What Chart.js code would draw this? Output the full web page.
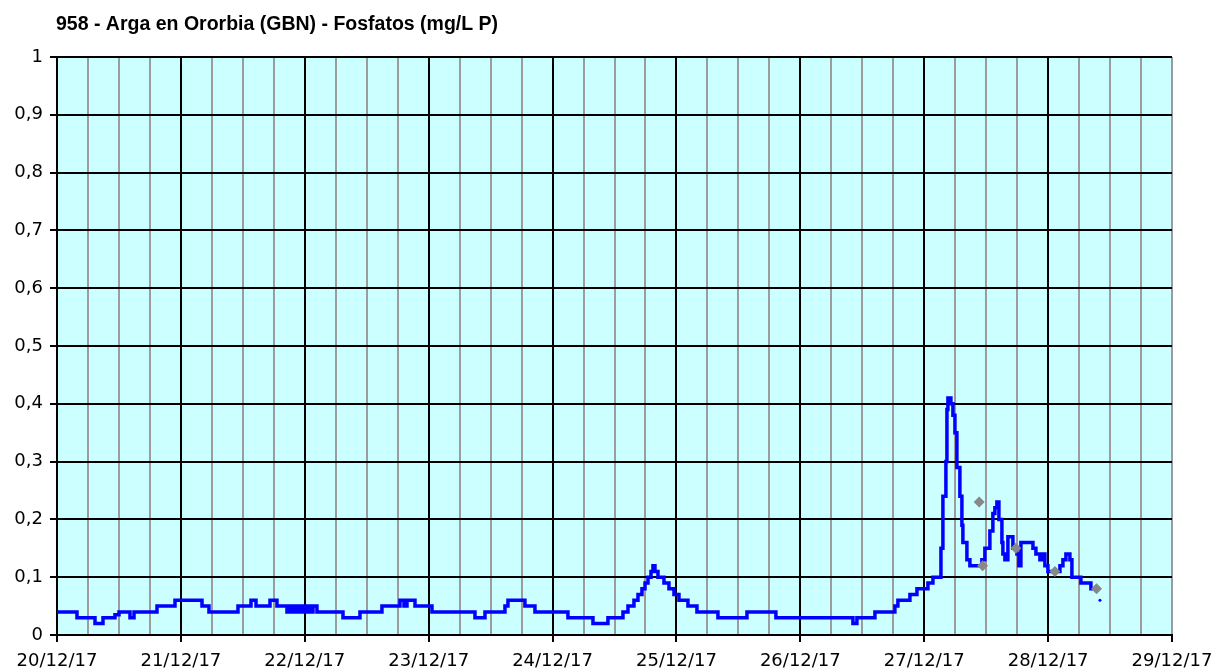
<!DOCTYPE html>
<html>
<head>
<meta charset="utf-8">
<title>958 - Arga en Ororbia (GBN) - Fosfatos</title>
<script src="https://cdn.jsdelivr.net/npm/chart.js@4/dist/chart.umd.min.js"></script>
<style>
    body { margin: 0; background: #fff; }
    canvas { display: block; }
</style>
</head>
<body>
<canvas id="fosfatosChart" width="1217" height="672"></canvas>
<script>
// horas desde 20/12/17 00:00
const dias = ['20/12/17', '21/12/17', '22/12/17', '23/12/17', '24/12/17', '25/12/17', '26/12/17', '27/12/17', '28/12/17', '29/12/17']

const horas = [
    0, 3.87, 7.36, 8.91, 11.23, 12.01, 14.14, 14.92, 19.37, 22.86,
    28.09, 29.44, 35.06, 37.58, 38.55, 41.26, 42.61, 44.55, 45.13, 45.71,
    46.29, 46.88, 47.46, 48.04, 48.62, 49.20, 49.59, 50.36, 55.40, 58.69,
    62.95, 66.44, 67.22, 67.80, 69.35, 72.64, 80.97, 82.91, 86.78, 87.36,
    90.65, 92.59, 98.98, 103.83, 106.73, 109.64, 110.61, 111.77, 112.55, 113.32,
    113.91, 114.49, 115.07, 115.45, 115.84, 116.42, 117.58, 118.55, 119.52, 120.49,
    122.23, 123.97, 128.04, 133.66, 139.27, 154.19, 154.96, 158.45, 162.32, 162.90,
    165.23, 166.59, 168.72, 169.69, 171.24, 171.62, 172.20, 172.40, 172.59, 173.17,
    173.56, 173.95, 174.33, 174.91, 175.30, 175.49, 176.27, 176.85, 179.17, 179.75,
    180.72, 181.30, 181.69, 182.08, 182.47, 183.05, 183.24, 183.63, 184.21, 185.18,
    185.96, 186.34, 186.73, 189.06, 189.64, 190.41, 190.99, 191.38, 191.96, 194.29,
    194.87, 195.45, 196.22, 196.61, 198.35, 200.29, 201.07, 201.5, 202.04
]

const fosfatos = [
    0.04, 0.03, 0.02, 0.03, 0.035, 0.04, 0.03, 0.04, 0.05, 0.06,
    0.05, 0.04, 0.05, 0.06, 0.05, 0.06, 0.05, 0.04, 0.05, 0.04,
    0.05, 0.04, 0.05, 0.04, 0.05, 0.04, 0.05, 0.04, 0.03, 0.04,
    0.05, 0.06, 0.05, 0.06, 0.05, 0.04, 0.03, 0.04, 0.05, 0.06,
    0.05, 0.04, 0.03, 0.02, 0.03, 0.04, 0.05, 0.06, 0.07, 0.08,
    0.09, 0.10, 0.11, 0.12, 0.11, 0.10, 0.09, 0.08, 0.07, 0.06,
    0.05, 0.04, 0.03, 0.04, 0.03, 0.02, 0.03, 0.04, 0.05, 0.06,
    0.07, 0.08, 0.09, 0.10, 0.15, 0.24, 0.30, 0.39, 0.41, 0.40,
    0.38, 0.35, 0.29, 0.24, 0.19, 0.16, 0.13, 0.12, 0.13, 0.15,
    0.18, 0.21, 0.22, 0.23, 0.20, 0.16, 0.14, 0.13, 0.17, 0.15,
    0.14, 0.12, 0.16, 0.15, 0.14, 0.13, 0.14, 0.12, 0.11, 0.12,
    0.13, 0.14, 0.13, 0.10, 0.09, 0.08, 0.08, null, 0.06
]

// muestras puntuales (rombos grises)
const horasMuestras = [178.65, 179.31, 185.76, 193.32, 201.39]
const muestras = [0.23, 0.12, 0.15, 0.11, 0.08]

const titulo = '958 - Arga en Ororbia (GBN) - Fosfatos (mg/L P)'

const fondoPlugin = {
    id: 'fondo',
    beforeDraw(chart) {
        const { ctx, chartArea } = chart
        ctx.save()
        ctx.fillStyle = '#ffffff'
        ctx.fillRect(0, 0, chart.width, chart.height)
        ctx.fillStyle = '#ccffff'
        ctx.fillRect(chartArea.left, chartArea.top, chartArea.right - chartArea.left, chartArea.bottom - chartArea.top)
        ctx.restore()
    },
    afterDraw(chart) {
        const ctx = chart.ctx
        ctx.save()
        ctx.fillStyle = '#000000'
        ctx.font = 'bold 19.5px "Liberation Sans", Arial, sans-serif'
        ctx.textBaseline = 'middle'
        ctx.fillText(titulo, 56, 25)
        ctx.restore()
    }
}

const linea = horas.map((h, i) => ({ x: h, y: fosfatos[i] }))
const puntos = horasMuestras.map((h, i) => ({ x: h, y: muestras[i] }))

new Chart(document.getElementById('fosfatosChart'), {
    type: 'line',
    data: {
        datasets: [{
            label: 'Muestras',
            data: puntos,
            order: 0,
            showLine: false,
            pointStyle: 'rectRot',
            pointRadius: 5.5,
            pointBorderWidth: 0,
            backgroundColor: '#888888',
            borderColor: '#888888'
        }, {
            label: 'Fosfatos',
            data: linea,
            order: 1,
            borderColor: '#0000ff',
            backgroundColor: '#0000ff',
            borderWidth: 3.5,
            stepped: true,
            pointRadius: (c) => (c.dataIndex > 0 && fosfatos[c.dataIndex - 1] === null) ? 1.5 : 0,
            pointBorderWidth: 0
        }]
    },
    options: {
        responsive: false,
        animation: false,
        layout: { padding: { top: 57, right: 45, left: 0, bottom: 0 } },
        plugins: {
            legend: { display: false },
            tooltip: { enabled: false }
        },
        scales: {
            x: {
                type: 'linear',
                min: 0,
                max: 216,
                afterFit: (scale) => {
                    scale.height = 37
                    scale.paddingRight = 0
                    scale.paddingLeft = 0
                },
                border: { color: '#000000', width: 2 },
                grid: {
                    lineWidth: 2,
                    color: (c) => (c.tick.value % 24 === 0 && c.tick.value < 216) ? '#000000' : '#9c9c9c',
                    tickColor: (c) => c.tick.value % 24 === 0 ? '#000000' : 'rgba(0,0,0,0)',
                    tickLength: 7
                },
                ticks: {
                    stepSize: 6,
                    autoSkip: false,
                    maxRotation: 0,
                    padding: 9,
                    color: '#000000',
                    font: { family: '"DejaVu Sans", Verdana, sans-serif', size: 18 },
                    callback: (v) => v % 24 === 0 ? dias[v / 24] : ''
                }
            },
            y: {
                min: 0,
                max: 1,
                afterFit: (scale) => { scale.width = 57 },
                border: { color: '#000000', width: 2 },
                grid: {
                    lineWidth: 2,
                    color: '#000000',
                    tickColor: '#000000',
                    tickLength: 7
                },
                ticks: {
                    stepSize: 0.1,
                    padding: 7,
                    color: '#000000',
                    font: { family: '"DejaVu Sans", Verdana, sans-serif', size: 18 },
                    callback: (v) => {
                        const n = Math.round(v * 10) / 10
                        return n === 0 || n === 1 ? String(n) : n.toFixed(1).replace('.', ',')
                    }
                }
            }
        }
    },
    plugins: [fondoPlugin]
})
</script>
</body>
</html>
